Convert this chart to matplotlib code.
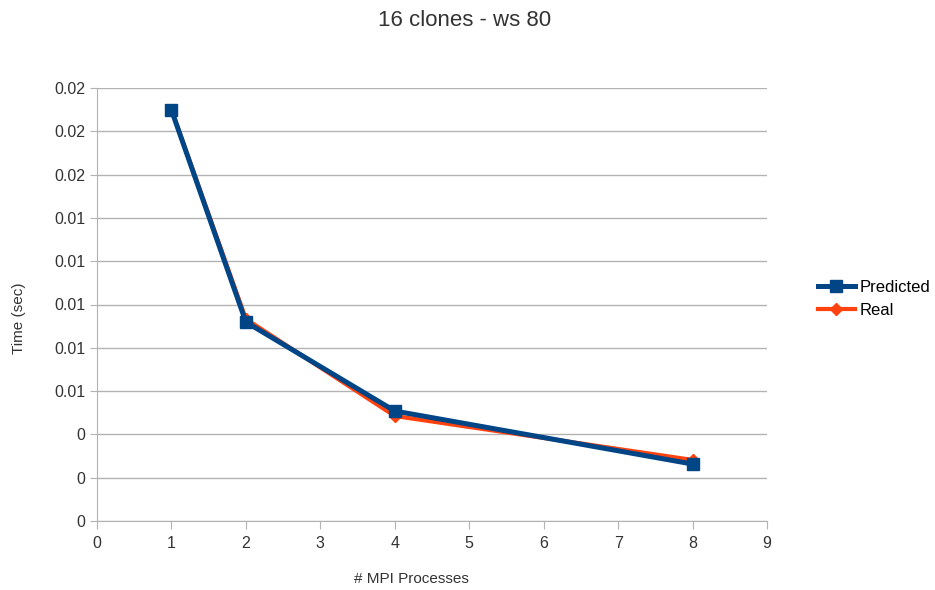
import matplotlib
matplotlib.use("Agg")
import matplotlib.pyplot as plt
from matplotlib.ticker import FuncFormatter, MultipleLocator

# data
processes = [1, 2, 4, 8]
predicted = [0.01898, 0.00919, 0.00508, 0.00263]
real = [0.01900, 0.00933, 0.00485, 0.00282]

plt.rcParams["font.family"] = ["Liberation Sans", "DejaVu Sans"]

W, H = 935, 590
fig = plt.figure(figsize=(9.35, 5.9), dpi=100)
ax = fig.add_axes([97 / W, 1 - 521 / H, (767 - 97) / W, (521 - 88) / H])

ax.plot(processes, real, color="#ff420e", lw=3.0, marker="D", ms=6, label="Real", zorder=3)
ax.plot(processes, predicted, color="#004586", lw=3.6, marker="s", ms=9, label="Predicted", zorder=4)

ax.set_xlim(0, 9)
ax.set_ylim(0, 0.02)
ax.xaxis.set_major_locator(MultipleLocator(1))
ax.yaxis.set_major_locator(MultipleLocator(0.002))
ax.yaxis.set_major_formatter(FuncFormatter(lambda v, p: f"{abs(round(v, 2)):g}"))

ax.grid(axis="y", color="#b3b3b3", lw=1)
ax.set_axisbelow(True)
for s in ["top", "right"]:
    ax.spines[s].set_visible(False)
for s in ["left", "bottom"]:
    ax.spines[s].set_color("#b3b3b3")
ax.tick_params(colors="#b3b3b3", labelcolor="#333333", labelsize=11.5, length=5)
ax.tick_params(axis="x", length=6, pad=5)

# axis titles placed where the reference has them
fig.text(411 / W, 1 - 579 / H, "# MPI Processes", fontsize=11, color="#333333",
         ha="center", va="center")
fig.text(19 / W, 1 - 318 / H, "Time (sec)", fontsize=11, color="#333333",
         ha="center", va="center", rotation=90)
fig.text(0.497, 1 - 21 / H, "16 clones - ws 80", fontsize=16, color="#333333",
         ha="center", va="center")

h, l = ax.get_legend_handles_labels()
fig.legend(h[::-1], l[::-1], loc="center left", bbox_to_anchor=(803 / W, 1 - 299 / H),
           frameon=False, fontsize=12, handlelength=2.2, handletextpad=0.3,
           labelspacing=0.5)

fig.savefig("out.png", dpi=100)
